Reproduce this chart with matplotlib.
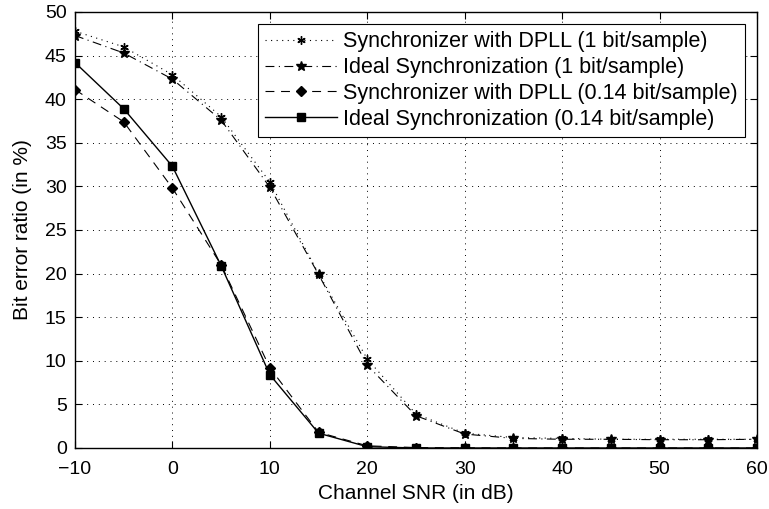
import numpy as np
import matplotlib
matplotlib.use('Agg')
import matplotlib.pyplot as plt

plt.rcParams['font.family'] = ['Liberation Sans', 'DejaVu Sans']

snr = [-10, -5, 0, 5, 10, 15, 20, 25, 30, 35, 40, 45, 50, 55, 60]

# bit error ratio in %
dpll_1bit = [47.8, 46.0, 42.8, 38.0, 30.5, 20.0, 10.2, 3.9, 1.7, 1.2, 1.1, 1.0, 1.0, 1.0, 1.0]
ideal_1bit = [47.3, 45.3, 42.3, 37.6, 29.9, 19.9, 9.5, 3.7, 1.6, 1.1, 1.0, 1.0, 0.95, 0.95, 1.0]
dpll_014 = [41.1, 37.4, 29.8, 21.0, 9.2, 1.8, 0.25, 0.05, 0.02, 0.0, 0.0, 0.0, 0.0, 0.0, 0.0]
ideal_014 = [44.2, 38.9, 32.3, 20.9, 8.4, 1.7, 0.15, 0.0, 0.0, 0.0, 0.0, 0.0, 0.0, 0.0, 0.0]

labels = ['Synchronizer with DPLL (1 bit/sample)',
          'Ideal Synchronization (1 bit/sample)',
          'Synchronizer with DPLL (0.14 bit/sample)',
          'Ideal Synchronization (0.14 bit/sample)']

fig = plt.figure(figsize=(7.69, 5.09), dpi=100)
ax = fig.add_axes([75 / 769, 61 / 509, 682 / 769, 436 / 509])

ax.plot(snr, dpll_1bit, color='k', lw=0.8, ls=(0, (1, 4)), marker=(6, 2, 0), ms=6, label=labels[0])
ax.plot(snr, ideal_1bit, color='k', lw=0.8, ls=(0, (8, 4, 1, 4)), marker='*', ms=7, label=labels[1])
ax.plot(snr, dpll_014, color='k', lw=0.8, ls=(0, (8, 6)), marker='D', ms=5, label=labels[2])
ax.plot(snr, ideal_014, color='k', lw=1.0, ls='-', marker='s', ms=5.5, label=labels[3])

ax.set_xlim(-10, 60)
ax.set_ylim(0, 50)
ax.set_xticks(np.arange(-10, 61, 10))
ax.set_yticks(np.arange(0, 51, 5))
ax.set_xticklabels(['\u221210', '0', '10', '20', '30', '40', '50', '60'])
ax.tick_params(direction='in', length=5, labelsize=14, top=True, right=True, width=0.8)
ax.tick_params(axis='x', pad=9)
ax.tick_params(axis='y', pad=6)
ax.grid(True, color='k', ls=(0, (1, 5)), lw=0.7)
for s in ax.spines.values():
    s.set_linewidth(1.0)

ax.set_xlabel('Channel SNR (in dB)', fontsize=15, labelpad=5)
ax.set_ylabel('Bit error ratio (in %)', fontsize=15, labelpad=9)

leg = ax.legend(loc='upper right', fontsize=15.5, frameon=True, fancybox=False,
                edgecolor='k', framealpha=1, handlelength=3.3, borderpad=0.35,
                labelspacing=0.22, borderaxespad=0.55, handletextpad=0.3)
leg.get_frame().set_linewidth(0.8)

fig.savefig('out.png', dpi=100)
